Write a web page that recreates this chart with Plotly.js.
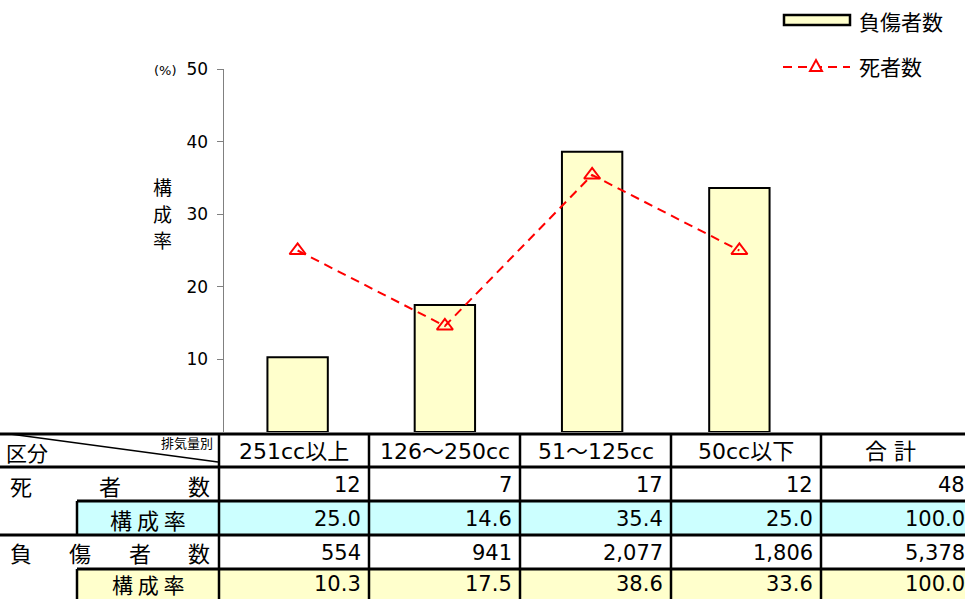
<!DOCTYPE html>
<html>
<head>
<meta charset="utf-8">
<script src="https://cdn.plot.ly/plotly-3.0.1.min.js"></script>
<style>html,body{margin:0;padding:0;background:#fff;}#chart{width:965px;height:599px;}</style>
</head>
<body>
<div id="chart"></div>
<script>
// ---- data ----
const categories = ['251cc以上', '126〜250cc', '51〜125cc', '50cc以下'];
const totalLabel = '合計';
const deaths = [12, 7, 17, 12];
const deathsTotal = 48;
const deathShare = [25.0, 14.6, 35.4, 25.0];
const deathShareTotal = 100.0;
const injuries = [554, 941, 2077, 1806];
const injuriesTotal = 5378;
const injuryShare = [10.3, 17.5, 38.6, 33.6];
const injuryShareTotal = 100.0;
const seriesNames = ['負傷者数', '死者数'];
const yTicks = [10, 20, 30, 40, 50];
const yTitleChars = ['構', '成', '率'];

// ---- layout helpers (pixel -> paper) ----
const W = 965, H = 599;
const px = x => x / W;
const py = y => 1 - y / H;
const JP = '"Noto Sans CJK JP", "DejaVu Sans", sans-serif';
const NUM = '"DejaVu Sans", "Noto Sans CJK JP", sans-serif';

const traces = [
  {
    type: 'bar', x: categories, y: injuryShare, name: seriesNames[0],
    width: 0.41,
    marker: {color: '#FFFFCC', line: {color: '#000', width: 2}},
    showlegend: false, hoverinfo: 'x+y'
  },
  {
    type: 'scatter', mode: 'lines+markers', x: categories, y: deathShare, name: seriesNames[1],
    line: {color: '#FF0000', width: 2, dash: '9px,6px'},
    marker: {symbol: 'triangle-up-open', size: 14, color: '#FF0000', line: {color: '#FF0000', width: 2}},
    showlegend: false, cliponaxis: false
  }
];

const shapes = [];
const annotations = [];

// table geometry
const colEdges = [219, 369, 520, 671, 821, 965];
const rowEdges = [434, 467, 501, 535, 569, 599];
const subIndent = 77;

// fills
shapes.push({type:'rect', xref:'paper', yref:'paper', x0:px(subIndent), x1:px(W+5), y0:py(rowEdges[2]), y1:py(rowEdges[3]), fillcolor:'#CCFFFF', line:{width:0}, layer:'below'});
shapes.push({type:'rect', xref:'paper', yref:'paper', x0:px(subIndent), x1:px(W+5), y0:py(rowEdges[4]), y1:py(rowEdges[5]+5), fillcolor:'#FFFFCC', line:{width:0}, layer:'below'});

function hline(y, x0, x1, w) {
  shapes.push({type:'line', xref:'paper', yref:'paper', x0:px(x0), x1:px(x1), y0:py(y), y1:py(y), line:{color:'#000', width:w}});
}
function vline(x, y0, y1, w) {
  shapes.push({type:'line', xref:'paper', yref:'paper', x0:px(x), x1:px(x), y0:py(y0), y1:py(y1), line:{color:'#000', width:w}});
}
hline(rowEdges[0], 0, W+5, 3);
hline(rowEdges[1], 0, W+5, 3);
hline(rowEdges[2], subIndent, W+5, 3);
hline(rowEdges[3], 0, W+5, 3);
hline(rowEdges[4], subIndent, W+5, 3);
for (let i = 0; i < colEdges.length - 1; i++) vline(colEdges[i], rowEdges[0], H+5, 2.5);
vline(subIndent, rowEdges[2], rowEdges[3], 2.5);
vline(subIndent, rowEdges[4], H+5, 2.5);
// diagonal in header corner
shapes.push({type:'line', xref:'paper', yref:'paper', x0:px(10), y0:py(434), x1:px(218), y1:py(462), line:{color:'#000', width:1.5}});

function ann(text, x, y, opts) {
  annotations.push(Object.assign({
    xref:'paper', yref:'paper', x:px(x), y:py(y), text:text, showarrow:false,
    xanchor:'center', yanchor:'middle', font:{family:JP, size:20, color:'#000'}
  }, opts || {}));
}

// header row
ann('区分', 4, 452, {xanchor:'left', font:{family:JP, size:21, color:'#000'}});
ann('排気量別', 215, 442, {xanchor:'right', font:{family:JP, size:13, color:'#000'}});
const headers = categories.concat([totalLabel]);
const rowMid = i => (rowEdges[i] + rowEdges[i+1]) / 2;
headers.forEach((h, i) => {
  const isTotal = i === headers.length - 1;
  ann(isTotal ? '合 計' : h, (colEdges[i] + colEdges[i+1]) / 2 - (isTotal ? 3 : 0), rowMid(0) + 1,
      {font:{family:NUM, size:22, color:'#000'}});
});

// row labels (distributed)
function distributed(str, left, right, y) {
  const chars = Array.from(str);
  chars.forEach((c, i) => {
    const x = left + (right - left) * i / (chars.length - 1);
    ann(c, x, y, {font:{family:JP, size:22, color:'#000'}});
  });
}
distributed(seriesNames[1], 21, 199, rowMid(1) + 1);
distributed(seriesNames[0], 21, 199, rowMid(3));
ann('構 成 率', (subIndent + colEdges[0]) / 2, rowMid(2) + 1, {font:{family:JP, size:22, color:'#000'}});
ann('構 成 率', (subIndent + colEdges[0]) / 2, rowMid(4), {font:{family:JP, size:21, color:'#000'}});

// numbers
const fmtInt = v => v.toLocaleString('en-US');
const fmt1 = v => v.toFixed(1);
const rows = [
  {vals: deaths.concat([deathsTotal]), f: fmtInt, r: 1},
  {vals: deathShare.concat([deathShareTotal]), f: fmt1, r: 2},
  {vals: injuries.concat([injuriesTotal]), f: fmtInt, r: 3},
  {vals: injuryShare.concat([injuryShareTotal]), f: fmt1, r: 4}
];
rows.forEach(row => {
  row.vals.forEach((v, i) => {
    const right = (i === row.vals.length - 1) ? W + 2 : colEdges[i+1] - 6;
    const yOff = row.r === 4 ? 0 : 1;
    ann(row.f(v), right, rowMid(row.r) + yOff, {xanchor:'right', font:{family:NUM, size:21, color:'#000'}});
  });
});

// y-axis annotations
ann('(%)', 179, 71, {xanchor:'right', font:{family:NUM, size:13, color:'#000'}});
yTitleChars.forEach((c, i) => ann(c, 162, 186 + i * 27, {font:{family:JP, size:19, color:'#000'}}));

// custom legend
shapes.push({type:'rect', xref:'paper', yref:'paper', x0:px(784), x1:px(850), y0:py(15), y1:py(25), fillcolor:'#FFFFCC', line:{color:'#000', width:2.5}});
ann(seriesNames[0], 857, 21, {xanchor:'left', font:{family:JP, size:21, color:'#000'}});
shapes.push({type:'line', xref:'paper', yref:'paper', x0:px(783), x1:px(850), y0:py(67), y1:py(67), line:{color:'#FF0000', width:2, dash:'9px,6px'}});
shapes.push({type:'path', xref:'paper', yref:'paper',
  path:`M ${px(810)} ${py(71)} L ${px(822)} ${py(71)} L ${px(816)} ${py(60)} Z`,
  fillcolor:'#FFFFFF', line:{color:'#FF0000', width:2}});
ann(seriesNames[1], 857, 66, {xanchor:'left', font:{family:JP, size:21, color:'#000'}});

const layout = {
  width: W, height: H,
  margin: {l:0, r:0, t:0, b:0, pad:0},
  paper_bgcolor: '#FFFFFF', plot_bgcolor: 'rgba(0,0,0,0)',
  showlegend: false,
  xaxis: {
    domain: [px(224), px(813)], range: [-0.5, 3.5], type: 'category',
    showticklabels: false, ticks: '', showline: false, showgrid: false, zeroline: false, fixedrange: true
  },
  yaxis: {
    domain: [py(432), py(69)], range: [0, 50],
    tickvals: yTicks, ticktext: yTicks.map(String),
    ticks: 'outside', ticklen: 6, tickcolor: '#808080', tickwidth: 1,
    showline: true, linecolor: '#808080', linewidth: 1.5,
    showgrid: false, zeroline: false,
    tickfont: {family: NUM, size: 17, color: '#000'},
    ticklabelstandoff: 5, fixedrange: true
  },
  shapes: shapes,
  annotations: annotations,
  bargap: 0.59
};

Plotly.newPlot('chart', traces, layout, {displayModeBar: false, staticPlot: true});
</script>
</body>
</html>
